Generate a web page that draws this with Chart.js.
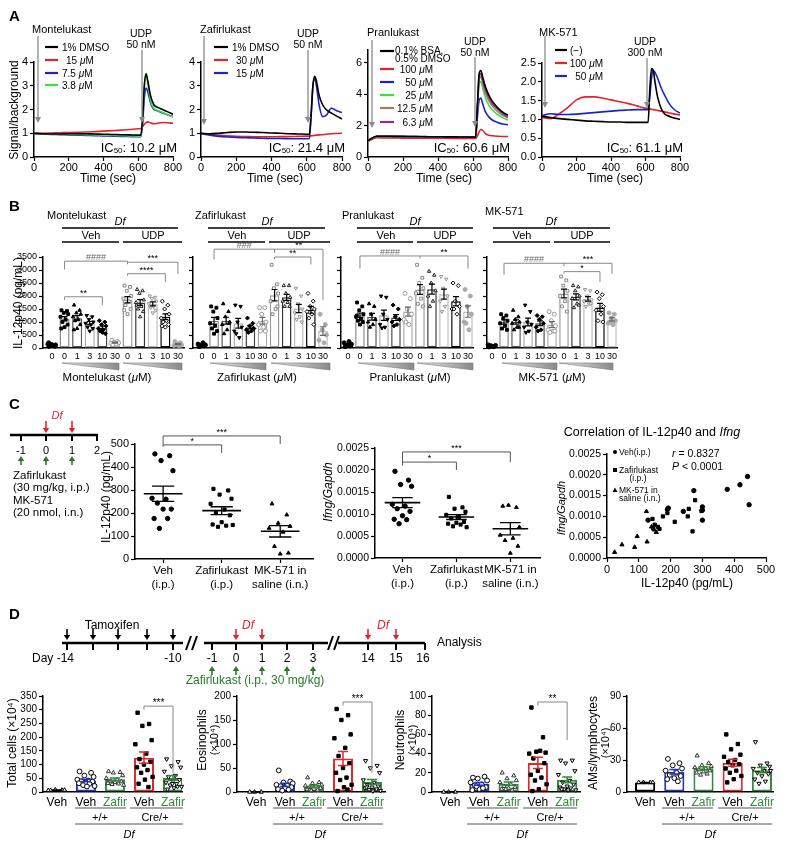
<!DOCTYPE html>
<html><head><meta charset="utf-8"><title>Figure</title>
<script src="https://cdn.jsdelivr.net/npm/chart.js@4.4.1/dist/chart.umd.min.js"></script>
<style>
html,body{margin:0;padding:0;background:#fff}
#fig{position:relative;width:786px;height:841px;overflow:hidden;background:#fff}
#fig canvas{position:absolute}
#ov{position:absolute;left:0;top:0;pointer-events:none}
</style></head>
<body><div id="fig"></div>
<script>
// ================= DATA =================
// ---- Panel A: Signal/background vs time (sec) ----
const aTime = [0,50,100,150,200,250,300,350,400,450,500,550,600,615,625,635,645,655,670,690,710,740,770,800];
const aTicksX = [0,200,400,600,800];
const monteDMSO = [1.00,0.98,0.97,0.97,0.98,0.98,0.98,0.97,0.96,0.95,0.94,0.93,0.92,0.92,1.60,3.00,3.50,3.20,2.60,2.20,2.10,2.00,1.90,1.80];
const monte15 =   [1.00,1.00,1.01,1.02,1.03,1.04,1.05,1.07,1.09,1.11,1.13,1.16,1.19,1.20,1.28,1.38,1.45,1.48,1.44,1.40,1.42,1.45,1.44,1.42];
const monte75 =   [0.97,0.96,0.95,0.94,0.93,0.92,0.91,0.90,0.89,0.88,0.87,0.86,0.85,0.85,1.40,2.50,2.90,2.75,2.30,2.00,1.95,1.85,1.77,1.70];
const monte38 =   [0.98,0.97,0.96,0.96,0.96,0.95,0.94,0.93,0.92,0.91,0.90,0.89,0.88,0.88,1.60,3.00,3.50,3.10,2.40,2.05,1.97,1.87,1.78,1.68];
const zafiDMSO =  [1.00,0.98,1.00,1.03,1.05,1.05,1.04,1.03,1.01,1.00,0.98,0.97,0.96,0.96,1.80,3.00,3.40,3.20,2.60,2.20,2.00,1.85,1.72,1.60];
const zafi30 =    [1.00,0.96,0.92,0.89,0.87,0.86,0.85,0.85,0.85,0.86,0.86,0.87,0.88,0.88,0.89,0.90,0.91,0.92,0.93,0.94,0.96,0.98,0.99,1.00];
const zafi15 =    [0.98,0.92,0.87,0.84,0.82,0.81,0.80,0.79,0.78,0.78,0.77,0.77,0.77,0.78,1.80,3.00,3.30,3.00,2.20,1.70,1.75,2.05,1.95,1.87];
const pranCtrl =  [1.05,1.32,1.32,1.31,1.31,1.30,1.30,1.29,1.29,1.28,1.28,1.27,1.27,1.27,3.20,5.30,5.50,5.10,4.50,3.95,3.55,3.15,2.85,2.65];
const pran100 =   [1.00,1.22,1.21,1.21,1.20,1.20,1.20,1.19,1.19,1.19,1.18,1.18,1.18,1.18,1.35,1.60,1.75,1.70,1.50,1.38,1.35,1.32,1.30,1.30];
const pran50 =    [1.02,1.30,1.30,1.29,1.29,1.28,1.28,1.27,1.27,1.27,1.26,1.26,1.26,1.26,2.50,3.60,3.75,3.40,2.90,2.55,2.35,2.20,2.10,2.05];
const pran25 =    [1.03,1.31,1.31,1.30,1.30,1.29,1.29,1.28,1.28,1.27,1.27,1.27,1.26,1.26,3.00,4.60,4.80,4.40,3.80,3.30,3.00,2.70,2.50,2.35];
const pran125 =   [1.04,1.31,1.31,1.30,1.30,1.30,1.29,1.29,1.28,1.28,1.27,1.27,1.27,1.27,3.10,4.90,5.10,4.70,4.10,3.60,3.25,2.90,2.65,2.50];
const pran63 =    [1.04,1.32,1.31,1.31,1.30,1.30,1.29,1.29,1.28,1.28,1.28,1.27,1.27,1.27,3.15,5.10,5.30,4.90,4.30,3.80,3.40,3.05,2.75,2.55];
const mkCtrl =    [1.08,1.05,1.02,1.00,0.98,0.96,0.95,0.94,0.93,0.93,0.92,0.92,0.92,0.92,1.80,2.35,2.30,2.00,1.60,1.30,1.15,1.08,1.03,1.00];
const mk100 =     [1.05,1.02,1.15,1.32,1.52,1.60,1.60,1.57,1.52,1.47,1.42,1.36,1.30,1.29,1.28,1.27,1.26,1.25,1.24,1.22,1.20,1.17,1.14,1.12];
const mk50 =      [1.10,1.15,1.13,1.13,1.14,1.16,1.18,1.20,1.22,1.24,1.25,1.26,1.26,1.26,1.60,2.10,2.30,2.25,2.10,1.85,1.65,1.40,1.25,1.17];

// ---- Panel B: IL-12p40 (pg/mL); groups: baseline 0, Veh 0/1/3/10/30, UDP 0/1/3/10/30 ----
const bTickLabels = ['0','0','1','3','10','30','0','1','3','10','30'];
const bTicksY = [0,500,1000,1500,2000,2500,3000,3500];
const monteB = [
  [60,80,100,120,150,90,110,70,130,200],
  [1450,1420,1350,1300,1200,1100,1000,900,800,750],
  [1650,1450,1350,1300,1200,1100,1050,900,750,700],
  [1250,1200,1100,1000,950,900,800,750,650],
  [1050,1000,900,850,750,700,650,550,600],
  [300,250,220,200,180,150,130],
  [2400,2350,2200,2000,1900,1800,1650,1500,1300,1450],
  [2250,2200,2100,1850,1750,1600,1500,1400,1200,1650],
  [2000,1950,1900,1800,1700,1600,1550,1450,1350],
  [1800,1650,1500,1300,1150,1050,1000,900,800,850],
  [250,200,150,120,100,90,130]];
const zafiB = [
  [50,80,100,120,150,200,60,90],
  [1600,1550,1400,1150,950,850,750,650,550],
  [1700,1400,1200,1000,900,700,550,950],
  [1650,1600,1000,800,650,400,550],
  [1150,950,850,750,700,650,600,750],
  [1550,1550,1300,1000,900,800,650,650],
  [3200,2450,2300,2100,1800,1500,1300,1600],
  [2400,2400,2100,1950,1800,1750,1600,1600],
  [2300,2000,1700,1500,1350,1200,1100,1000],
  [2100,1800,1600,1500,1400,1300,1150,900],
  [1300,900,700,500,300,200]];
const pranB = [
  [50,80,100,150,200,250,60,90,120],
  [1750,1600,1450,1300,1200,1100,1050,1000,900,1250],
  [1700,1600,1300,1100,1000,900,800],
  [2000,1950,1300,1100,900,800,770],
  [1650,1500,1200,1100,1000,900,850],
  [2100,1900,1500,1300,1100,900,1000],
  [3200,2700,2500,2300,2100,1900,1700,1600],
  [2950,2800,2500,2200,2000,1800,1600],
  [2750,2650,2300,2000,1800,1600,1400],
  [2500,2400,1800,1600,1500,1300,1500],
  [2250,2000,1600,1300,1000,700,950]];
const mkB = [
  [40,60,80,100,120,50,90],
  [1300,1250,1150,1050,950,850,750,700],
  [1450,1200,1100,1000,950,800,700,800],
  [1650,1400,1000,900,800,650,600],
  [1250,1200,1100,950,800,700,650],
  [1400,1300,1050,850,700,650,600,650],
  [2750,2600,2400,2200,2000,1800,1600,1400],
  [2400,2350,2200,2000,1900,1700,1550,1650],
  [2250,2200,2000,1850,1800,1700,1600,1700],
  [2150,2050,1900,1600,1450,1300,1050,1000],
  [1350,1300,1150,1050,950,900,1000]];

// ---- Panel C ----
const cCats = [['Veh','(i.p.)'],['Zafirlukast','(i.p.)'],['MK-571 in','saline (i.n.)']];
const il12Ticks = [0,100,200,300,400,500];
const il12Veh = [457,449,428,384,264,260,243,217,217,176,176,133];
const il12Zafi = [305,298,280,262,240,215,200,190,160,150,145,140,148];
const il12MK = [240,192,156,142,134,117,55,26,22];
const ifngTicks = [0,0.0005,0.001,0.0015,0.002,0.0025];
const ifngVeh = [0.00197,0.00177,0.00167,0.00163,0.00122,0.00118,0.00112,0.00106,0.00096,0.00088,0.00087,0.00078];
const ifngZafi = [0.00139,0.00115,0.00112,0.00105,0.00098,0.00093,0.00090,0.00082,0.00080,0.00078,0.00076,0.00072,0.00070];
const ifngMK = [0.00118,0.00115,0.00120,0.00070,0.00052,0.00045,0.00040,0.00027,0.00011];
const corrTicksX = [0,100,200,300,400,500];
const corrVehX = [442,418,378,447,273,300,300,300,193,190,129,240];
const corrVehY = [0.00196,0.00176,0.00165,0.00128,0.00162,0.00123,0.00115,0.00091,0.00120,0.00117,0.00091,0.00112];
const corrZafiX = [277,257,254,213,269,297,176,190,143,150,160,165,145];
const corrZafiY = [0.00139,0.00118,0.00100,0.00087,0.00064,0.00113,0.00100,0.00108,0.00094,0.00080,0.00075,0.00070,0.00072];
const corrMKX = [124,95,47,24,87,126,155,140,148];
const corrMKY = [0.00112,0.00052,0.00032,0.00014,0.00026,0.00039,0.00062,0.00075,0.00068];

// ---- Panel D (x10^4 cells); groups: Veh, +/+ Veh, +/+ Zafir, Cre/+ Veh, Cre/+ Zafir ----
const dTickLabels = ['Veh','Veh','Zafir','Veh','Zafir'];
const totalCells = [[6,7,8,7,6],[75,70,60,55,45,42,40,38,35,32,30,25,22,20],[75,72,70,60,50,45,40,38,35,32,30,28,25],[289,248,241,189,174,140,120,110,100,90,80,70,55,45,30,18],[120,110,95,90,75,60,55,45,40,35,30,25,20,15,10,20,30]];
const eosinophils = [[0,0,0],[45,22,20,18,15,13,12,10,8,6,5,3],[30,20,18,15,13,12,10,8,6,5,4,3],[173,160,150,120,112,92,75,60,50,40,30,25,15,10,2,5],[65,55,50,40,25,20,15,12,10,8,5,5,3,2,10,6]];
const neutrophils = [[0,0,0],[15,16,14,12,10,8,7,5,3,2,4,6],[20,17,14,12,10,8,6,5,4,3,2,3],[88,57,42,41,40,43,35,30,22,18,15,12,8,3,1],[33,33,30,22,18,12,10,8,6,5,4,3,2,2,3]];
const amsLymph = [[9,9,9,9],[31,27,25,22,20,18,16,15,13,12,10],[34,27,25,24,23,22,21,20,19,18,17,16],[54,45,40,35,33,30,28,26,25,22,20,18,15,12,9],[47,27,25,24,22,20,18,17,15,12,10,8,20,22]];
const totalTicks = [0,50,100,150,200,250,300,350];
const eosTicks = [0,50,100,150,200];
const neuTicks = [0,20,40,60,80,100];
const amTicks = [0,30,60,90];

// ================= STYLE / HELPERS =================
const FONT = '"Liberation Sans", Arial, Helvetica, sans-serif';
const RED = '#e8202a', BLUE = '#1a25c8', GREEN_A = '#3ee03e', BROWN = '#a27b5c', PURPLE = '#8e2a90';
const DGREEN = '#2f8a3a', DBLUE = '#2233cc', DRED = '#e02828', TGREEN = '#2a7a2a';
Chart.defaults.font.family = FONT;
Chart.defaults.color = '#000';
Chart.defaults.animation = false;
Chart.defaults.events = [];
Chart.defaults.plugins.legend.display = false;
Chart.defaults.plugins.tooltip.enabled = false;

const JIT = [-0.2,0.16,-0.05,0.24,-0.27,0.07,-0.14,0.2,0.0,-0.22,0.11,-0.09,0.27,0.03,-0.17,0.14,-0.02];
const mean = a => a.reduce((p,c)=>p+c,0)/a.length;
const sem = a => { const m = mean(a); return Math.sqrt(a.reduce((p,c)=>p+(c-m)*(c-m),0)/(a.length-1))/Math.sqrt(a.length); };

const fig = document.getElementById('fig');
function makeChart(box, cfg) {
  const c = document.createElement('canvas');
  const w = box.x1 - box.x0 + box.L + box.R, h = box.yB - box.yT + box.T + box.B;
  c.width = w; c.height = h;
  c.style.left = (box.x0 - box.L) + 'px'; c.style.top = (box.yT - box.T) + 'px';
  c.style.width = w + 'px'; c.style.height = h + 'px';
  fig.appendChild(c);
  cfg.options.responsive = false;
  cfg.options.maintainAspectRatio = false;
  cfg.options.layout = {padding: {top: box.T, right: box.R, left: 0, bottom: 0}};
  cfg.options.scales.x.afterFit = s => { s.height = box.B; };
  cfg.options.scales.y.afterFit = s => { s.width = box.L; };
  const ch = new Chart(c, cfg);
  ch.$ox = box.x0 - box.L; ch.$oy = box.yT - box.T;
  return ch;
}
const PX = (ch, v) => ch.$ox + ch.scales.x.getPixelForValue(v);
const PY = (ch, v) => ch.$oy + ch.scales.y.getPixelForValue(v);

function ax(o) {
  const a = {
    type: 'linear', min: o.min, max: o.max, offset: false,
    grid: {display: true, drawOnChartArea: false, drawTicks: (o.tl||0) > 0, tickLength: o.tl||0, tickWidth: 1.2, color: '#000', offset: false},
    border: {display: true, color: '#000', width: 1.5},
    ticks: {autoSkip: false, maxRotation: 0, minRotation: 0, padding: (o.pad===undefined?2:o.pad), font: {size: o.fs || 11}, color: o.color || '#000'}
  };
  if (o.tv) a.afterBuildTicks = s => { s.ticks = o.tv.map(v => ({value: v})); };
  if (o.cb) a.ticks.callback = o.cb;
  return a;
}

// ---------- Panel A charts ----------
function aChart(box, series, ymax, yTicks, yfmt) {
  return makeChart(box, {type: 'scatter',
    data: {datasets: series.map(sr => ({data: aTime.map((t,i)=>({x:t, y:sr.v[i]})), showLine: true, borderColor: sr.c, borderWidth: 1.6, pointRadius: 0, cubicInterpolationMode: 'monotone', fill: false}))},
    options: {scales: {x: ax({min:0, max:800, tv:aTicksX, tl:4, pad:0, fs:11}), y: ax({min:0, max:ymax, tv:yTicks, tl:4, fs:11, cb:yfmt})}}});
}
const A1 = aChart({x0:34,x1:173,yT:62,yB:157,L:24,R:14,T:10,B:24},
  [{v:monteDMSO,c:'#000'},{v:monte38,c:GREEN_A},{v:monte75,c:BLUE},{v:monte15,c:RED}], 4, [0,1,2,3,4]);
const A2 = aChart({x0:201,x1:342,yT:62,yB:157,L:24,R:14,T:10,B:24},
  [{v:zafiDMSO,c:'#000'},{v:zafi15,c:BLUE},{v:zafi30,c:RED}], 4, [0,1,2,3,4]);
const A3 = aChart({x0:368,x1:508,yT:50,yB:157,L:24,R:14,T:10,B:24},
  [{v:pranCtrl,c:'#000'},{v:pran63,c:PURPLE},{v:pran125,c:BROWN},{v:pran25,c:GREEN_A},{v:pran50,c:BLUE},{v:pran100,c:RED}], 6.8, [0,2,4,6]);
const A4 = aChart({x0:542,x1:680,yT:63,yB:157,L:28,R:14,T:10,B:24},
  [{v:mkCtrl,c:'#000'},{v:mk50,c:BLUE},{v:mk100,c:RED}], 2.5, [0,0.5,1,1.5,2,2.5], v => v.toFixed(1));

// ---------- bar + dot charts ----------
function barDot(box, groups, o) {
  const ds = [{type:'bar', data: groups.map((g,i)=>({x:i, y:mean(g)})), backgroundColor:'#fff', borderColor:o.barCols, borderWidth:o.bw, borderSkipped:false, barPercentage:o.bp, categoryPercentage:1, order:3}];
  groups.forEach((g,i)=>{ const st = o.styles[i];
    ds.push({type:'scatter', data: g.map((v,k)=>({x: i + JIT[k%JIT.length]*o.jit, y: v})), pointStyle: st.s, pointRotation: st.r||0, pointRadius: o.pr, pointBackgroundColor: st.f, pointBorderColor: st.c, pointBorderWidth: 1, clip: false, order: 1}); });
  const eb = {id:'eb', afterDatasetsDraw(ch){ const c = ch.ctx, xs = ch.scales.x, ys = ch.scales.y; c.save(); c.lineWidth = o.ebw || 1.2;
    groups.forEach((g,i)=>{ const m = mean(g), e = sem(g), x = xs.getPixelForValue(i), y1 = ys.getPixelForValue(m-e), y2 = ys.getPixelForValue(m+e);
      c.strokeStyle = o.ebCols[i]; c.beginPath(); c.moveTo(x,y1); c.lineTo(x,y2); c.moveTo(x-o.cap,y1); c.lineTo(x+o.cap,y1); c.moveTo(x-o.cap,y2); c.lineTo(x+o.cap,y2); c.stroke(); });
    c.restore(); }};
  return makeChart(box, {type:'scatter', data:{datasets: ds},
    options:{scales:{
      x: ax({min:o.xmin, max:o.xmax, tv:o.xLabels.map((_,i)=>i), tl:0, pad:o.xpad, fs:o.xfs, cb: v => o.xLabels[Math.round(v)], color:o.xColor}),
      y: ax({min:0, max:o.ymax, tv:o.yTicks, tl:4, fs:o.yfs, cb: o.ylab ? (v => String(v)) : (() => '')})}},
    plugins:[eb]});
}
const bStyles = [
 {s:'circle',f:'#000',c:'#000'},{s:'rect',f:'#000',c:'#000'},{s:'triangle',f:'#000',c:'#000'},{s:'triangle',r:180,f:'#000',c:'#000'},{s:'rectRot',f:'#000',c:'#000'},{s:'circle',f:'#fff',c:'#999'},
 {s:'rect',f:'#fff',c:'#888'},{s:'triangle',f:'#fff',c:'#222'},{s:'triangle',r:180,f:'#fff',c:'#999'},{s:'rectRot',f:'#fff',c:'#000'},{s:'circle',f:'#aaa',c:'#aaa'}];
const bBarCols = ['#000','#888','#555','#aaa','#444','#aaa','#999','#333','#bbb','#000','#bbb'];
const bEbCols = ['#000','#000','#000','#000','#000','#666','#000','#000','#000','#000','#666'];
const bOpt = (xmin, xmax, ylab) => ({xmin, xmax, ylab, xLabels:bTickLabels, xpad:3, xfs:9, ymax:3500, yTicks:bTicksY, yfs:9, barCols:bBarCols, ebCols:bEbCols, styles:bStyles, bw:1.5, bp:0.8, jit:1.2, pr:2, cap:3});
const B1 = barDot({x0:43,x1:184,yT:257,yB:348,L:30,R:10,T:8,B:16}, monteB, bOpt(-0.71, 10.48, true));
const B2 = barDot({x0:193,x1:330,yT:257,yB:348,L:10,R:10,T:8,B:16}, zafiB, bOpt(-0.74, 10.58, false));
const B3 = barDot({x0:341,x1:473,yT:257,yB:348,L:10,R:10,T:8,B:16}, pranB, bOpt(-0.58, 10.42, false));
const B4 = barDot({x0:487,x1:617,yT:257,yB:348,L:10,R:10,T:8,B:16}, mkB, bOpt(-0.42, 10.42, false));

// ---------- Panel C charts ----------
function dotMean(box, groups, o) {
  const ds = groups.map((g,i)=>({data: g.map((v,k)=>({x: i + JIT[k%JIT.length]*0.7, y: v})), pointStyle: o.styles[i], pointRadius: 2.2, pointBackgroundColor:'#000', pointBorderColor:'#000', clip:false}));
  const mp = {id:'mp', afterDatasetsDraw(ch){ const c = ch.ctx, xs = ch.scales.x, ys = ch.scales.y; c.save(); c.strokeStyle = '#000';
    groups.forEach((g,i)=>{ const m = mean(g), e = sem(g);
      const ym = ys.getPixelForValue(m), y1 = ys.getPixelForValue(m-e), y2 = ys.getPixelForValue(m+e);
      c.lineWidth = 1.6; c.beginPath(); c.moveTo(xs.getPixelForValue(i-0.33), ym); c.lineTo(xs.getPixelForValue(i+0.33), ym); c.stroke();
      c.lineWidth = 1.3; c.beginPath(); c.moveTo(xs.getPixelForValue(i-0.19), y1); c.lineTo(xs.getPixelForValue(i+0.19), y1);
      c.moveTo(xs.getPixelForValue(i-0.19), y2); c.lineTo(xs.getPixelForValue(i+0.19), y2);
      c.moveTo(xs.getPixelForValue(i), y1); c.lineTo(xs.getPixelForValue(i), y2); c.stroke(); });
    c.restore(); }};
  return makeChart(box, {type:'scatter', data:{datasets: ds},
    options:{scales:{
      x: ax({min:o.xmin, max:o.xmax, tv:[0,1,2], tl:4, pad:1, fs:11.5, cb: v => cCats[Math.round(v)]}),
      y: ax({min:0, max:o.ymax, tv:o.yTicks, tl:4, fs:o.yfs || 11, cb:o.yfmt})}},
    plugins:[mp]});
}
const C1 = dotMean({x0:135,x1:313,yT:444,yB:559,L:32,R:10,T:10,B:34}, [il12Veh, il12Zafi, il12MK], {xmin:-0.48, xmax:2.56, ymax:500, yTicks:il12Ticks, styles:['circle','rect','triangle']});
const C2 = dotMean({x0:375,x1:540,yT:448,yB:558,L:44,R:10,T:10,B:34}, [ifngVeh, ifngZafi, ifngMK], {xmin:-0.51, xmax:2.55, ymax:0.0025, yTicks:ifngTicks, yfs:10.5, yfmt: v => v.toFixed(4), styles:['circle','rect','triangle']});
const C3 = makeChart({x0:607,x1:766,yT:454,yB:558,L:44,R:14,T:10,B:20}, {type:'scatter',
  data:{datasets:[
    {data: corrVehX.map((x,i)=>({x, y:corrVehY[i]})), pointStyle:'circle', pointRadius:2.2, pointBackgroundColor:'#000', pointBorderColor:'#000', clip:false},
    {data: corrZafiX.map((x,i)=>({x, y:corrZafiY[i]})), pointStyle:'rect', pointRadius:2.3, pointBackgroundColor:'#000', pointBorderColor:'#000', clip:false},
    {data: corrMKX.map((x,i)=>({x, y:corrMKY[i]})), pointStyle:'triangle', pointRadius:2.4, pointBackgroundColor:'#000', pointBorderColor:'#000', clip:false}]},
  options:{scales:{x: ax({min:0, max:500, tv:corrTicksX, tl:4, pad:1, fs:11}), y: ax({min:0, max:0.0025, tv:ifngTicks, tl:4, fs:10.5, cb: v => v.toFixed(4)})}}});

// ---------- Panel D charts ----------
const dStyles = [{s:'triangle',f:'#fff',c:'#000'},{s:'circle',f:'#fff',c:'#000'},{s:'triangle',f:'#fff',c:'#333'},{s:'rect',f:'#000',c:'#000'},{s:'triangle',r:180,f:'#fff',c:'#000'}];
const dCols = ['#000', DBLUE, DGREEN, DRED, DGREEN];
const dOpt = (xmin, xmax, ymax, yTicks) => ({xmin, xmax, ymax, yTicks, ylab:true, xLabels:dTickLabels, xpad:3, xfs:12, xColor: ctx => (dTickLabels[ctx.index]==='Zafir' ? DGREEN : '#000'), yfs:10, barCols:dCols, ebCols:dCols, styles:dStyles, bw:2, bp:0.69, jit:1.1, pr:2.4, cap:5, ebw:1.5});
const D1 = barDot({x0:43,x1:182,yT:696,yB:792,L:26,R:10,T:8,B:18}, totalCells, dOpt(-0.48, 4.31, 350, totalTicks));
const D2 = barDot({x0:237,x1:385,yT:696,yB:792,L:26,R:10,T:8,B:18}, eosinophils, dOpt(-0.66, 4.45, 200, eosTicks));
const D3 = barDot({x0:432,x1:580,yT:696,yB:792,L:26,R:10,T:8,B:18}, neutrophils, dOpt(-0.62, 4.44, 100, neuTicks));
const D4 = barDot({x0:627,x1:773,yT:696,yB:792,L:26,R:10,T:8,B:18}, amsLymph, dOpt(-0.62, 4.38, 90, amTicks));

// ================= ANNOTATION OVERLAY (SVG) =================
let S = '';
function T(x, y, str, o = {}) {
  const tr = o.rot ? ` transform="rotate(-90 ${x} ${y})"` : '';
  S += `<text x="${x}" y="${y}" font-size="${o.fs||11}" text-anchor="${o.a||'start'}" dominant-baseline="central"${o.it?' font-style="italic"':''}${o.b?' font-weight="bold"':''} fill="${o.c||'#000'}"${tr}>${str}</text>`;
}
function Ln(x1, y1, x2, y2, c = '#000', w = 1) { S += `<line x1="${x1}" y1="${y1}" x2="${x2}" y2="${y2}" stroke="${c}" stroke-width="${w}"/>`; }
function Arr(x, y1, y2, c, w = 1.3, hw = 3, hl = 6) {
  const d = y2 > y1 ? 1 : -1;
  Ln(x, y1, x, y2 - d*hl*0.7, c, w);
  S += `<polygon points="${x-hw},${y2-d*hl} ${x+hw},${y2-d*hl} ${x},${y2}" fill="${c}"/>`;
}
function brk(ch, i1, i2, y, yl, yr, txt, o = {}) {
  const x1 = PX(ch, i1), x2 = PX(ch, i2), py = PY(ch, y), lc = o.lc || '#888';
  Ln(x1, py, x2, py, lc, 1);
  if (yl !== null) Ln(x1, py, x1, PY(ch, yl), lc, 1);
  if (yr !== null) Ln(x2, py, x2, PY(ch, yr), lc, 1);
  T((x1 + x2)/2, py - (o.dy || 4), txt, {fs: o.fs || 9, a: 'middle', c: o.tc || '#000'});
}
const MU = '<tspan font-style="italic">μ</tspan>M';

// ----- Panel A -----
T(9, 15, 'A', {fs:15, b:1});
T(32, 29, 'Montelukast'); T(200, 29, 'Zafirlukast'); T(367, 32, 'Pranlukast'); T(539, 32, 'MK-571');
T(14, 110, 'Signal/background', {fs:12, a:'middle', rot:1});
[[108,178],[275,178],[444,178],[615,178]].forEach(p => T(p[0], p[1], 'Time (sec)', {fs:12, a:'middle'}));
[[47,'#000','1% DMSO',62],[60,RED,'15 '+MU,66],[73,BLUE,'7.5 '+MU,62],[85,GREEN_A,'3.8 '+MU,62]].forEach(r => { Ln(45, r[0], 58, r[0], r[1], 2.2); T(r[3], r[0], r[2], {fs:10}); });
[[47,'#000','1% DMSO',232],[60,RED,'30 '+MU,236],[73,BLUE,'15 '+MU,236]].forEach(r => { Ln(214, r[0], 228, r[0], r[1], 2.2); T(r[3], r[0], r[2], {fs:10}); });
Ln(380, 51, 394, 51, '#000', 2.2); T(395, 50, '0.1% BSA,', {fs:10}); T(395, 58, '0.5% DMSO', {fs:10});
[[69,RED,'100 '+MU],[82,BLUE,'50 '+MU],[95,GREEN_A,'25 '+MU],[108,BROWN,'12.5 '+MU],[122,PURPLE,'6.3 '+MU]].forEach(r => { Ln(380, r[0], 394, r[0], r[1], 2.2); T(433, r[0], r[2], {fs:10, a:'end'}); });
Ln(555, 50, 567, 50, '#000', 2.2); T(570, 50, '(−)', {fs:10});
[[63,RED,'100 '+MU],[76,BLUE,'50 '+MU]].forEach(r => { Ln(555, r[0], 567, r[0], r[1], 2.2); T(603, r[0], r[2], {fs:10, a:'end'}); });
[[141,33,'50 nM'],[308,33,'50 nM'],[475,41,'50 nM'],[645,41,'300 nM']].forEach(p => { T(p[0], p[1], 'UDP', {fs:10.5, a:'middle'}); T(p[0], p[1]+11, p[2], {fs:10.5, a:'middle'}); });
const GRAY = '#8a8a8a';
Arr(38, 36, 123, GRAY); Arr(142, 50, 123, GRAY);
Arr(204, 36, 125, GRAY); Arr(308, 50, 123, GRAY);
Arr(372, 40, 128, GRAY); Arr(475, 57, 127, GRAY);
Arr(545, 36, 108, GRAY); Arr(647, 58, 108, GRAY);
[[177,'10.2'],[345,'21.4'],[510,'60.6'],[683,'61.1']].forEach(p => T(p[0], 147, `IC<tspan font-size="8" dy="3">50</tspan><tspan dy="-3">: ${p[1]} μM</tspan>`, {fs:13, a:'end'}));

// ----- Panel B -----
T(9, 205, 'B', {fs:15, b:1});
T(47, 215, 'Montelukast'); T(195, 215, 'Zafirlukast'); T(342, 215, 'Pranlukast'); T(485, 211, 'MK-571');
T(18, 303, 'IL-12p40 (pg/mL)', {fs:12, a:'middle', rot:1});
S += '<defs><linearGradient id="wg" x1="0" x2="1" y1="0" y2="0"><stop offset="0" stop-color="#f2f2f2"/><stop offset="1" stop-color="#888"/></linearGradient></defs>';
const bHead = [
  {df:[62,178,120], veh:[62,119,91], udp:[123,182,153], w1:[62,119], w2:[123,182], title:'Montelukast (' + MU + ')', tx:107},
  {df:[208,325,267], veh:[208,265,237], udp:[269,330,299], w1:[210,266], w2:[271,330], title:'Zafirlukast (' + MU + ')', tx:257},
  {df:[357,473,415], veh:[357,413,386], udp:[417,473,445], w1:[358,414], w2:[417,473], title:'Pranlukast (' + MU + ')', tx:410},
  {df:[493,610,551], veh:[493,550,522], udp:[554,610,582], w1:[502,557], w2:[559,613], title:'MK-571 (' + MU + ')', tx:552}];
bHead.forEach(h => {
  T(h.df[2], 221, 'Df', {fs:11, it:1, a:'middle'}); Ln(h.df[0], 228, h.df[1], 228, '#000', 1.3);
  T(h.veh[2], 235, 'Veh', {fs:11, a:'middle'}); Ln(h.veh[0], 242, h.veh[1], 242, '#000', 1.3);
  T(h.udp[2], 235, 'UDP', {fs:11, a:'middle'}); Ln(h.udp[0], 242, h.udp[1], 242, '#000', 1.3);
  [h.w1, h.w2].forEach(w => { S += `<polygon points="${w[0]},363 ${w[1]},363 ${w[1]},370" fill="url(#wg)" stroke="#777" stroke-width="0.6"/>`; });
  T(h.tx, 377, h.title, {fs:11.5, a:'middle'});
});
const HC = {lc:'#888', tc:'#666'};
brk(B1, 1, 6, 3340, 3017, 3220, '####', HC); brk(B1, 6, 10, 3300, null, 2856, '***'); brk(B1, 6, 9, 2856, 2780, 2535, '****'); brk(B1, 1, 4, 1971, 1850, 1650, '**');
brk(B2, 1, 6, 3800, 3400, 3650, '###', HC); brk(B2, 6, 10, 3800, null, 1850, '**'); brk(B2, 6, 9, 3500, 3420, 3218, '**');
brk(B3, 1, 6, 3540, 3057, 3450, '####', HC); brk(B3, 6, 10, 3540, null, 3057, '**');
brk(B4, 1, 6, 3259, 2816, 3150, '####', HC); brk(B4, 6, 10, 3259, null, 2856, '***'); brk(B4, 6, 9, 2937, 2860, 2535, '*');

// ----- Panel C -----
T(9, 403, 'C', {fs:15, b:1});
T(57, 415, 'Df', {fs:11, it:1, c:RED, a:'middle'});
Ln(10, 435, 98, 435, '#000', 2.5);
[[21,'-1'],[46,'0'],[72,'1'],[97,'2']].forEach(p => { Ln(p[0], 435, p[0], 441, '#000', 2); T(p[0], 450, p[1], {fs:11, a:'middle'}); });
[46,72].forEach(x => Arr(x, 421, 433, RED, 1.6, 3.2, 5));
[21,46,72].forEach(x => Arr(x, 465, 456, TGREEN, 1.6, 3.2, 5));
T(13, 475, 'Zafirlukast', {fs:11.5}); T(13, 487, '(30 mg/kg, i.p.)', {fs:11.5}); T(13, 500, 'MK-571', {fs:11.5}); T(13, 512, '(20 nmol, i.n.)', {fs:11.5});
T(106, 497, 'IL-12p40 (pg/mL)', {fs:12, a:'middle', rot:1});
T(328, 492, 'Ifng/Gapdh', {fs:12, a:'middle', rot:1, it:1});
T(561, 508, 'Ifng/Gapdh', {fs:11, a:'middle', rot:1, it:1});
T(652, 432, 'Correlation of IL-12p40 and <tspan font-style="italic">Ifng</tspan>', {fs:12.5, a:'middle'});
T(687, 583, 'IL-12p40 (pg/mL)', {fs:12, a:'middle'});
S += `<circle cx="615" cy="452" r="2" fill="#000"/>`; T(619, 452, 'Veh(i.p.)', {fs:8.5});
S += `<rect x="613" y="468" width="4" height="4" fill="#000"/>`; T(619, 470, 'Zafirlukast', {fs:8.5}); T(638, 478, '(i.p.)', {fs:8.5, a:'middle'});
S += `<polygon points="612.5,492 617.5,492 615,487.5" fill="#000"/>`; T(619, 490, 'MK-571 in', {fs:8.5}); T(619, 498, 'saline (i.n.)', {fs:8.5});
T(672, 453, '<tspan font-style="italic">r</tspan> = 0.8327', {fs:10.5});
T(672, 466, '<tspan font-style="italic">P</tspan> &lt; 0.0001', {fs:10.5});
brk(C1, 0, 2, 535, 496, 500, '***', {lc:'#555'}); brk(C1, 0, 1, 496, 488, 461, '*', {lc:'#555'});
brk(C2, 0, 2, 0.00241, 0.00218, 0.00218, '***', {lc:'#555'}); brk(C2, 0, 1, 0.00218, 0.0021, 0.0020, '*', {lc:'#555'});

// ----- Panel D -----
T(9, 613, 'D', {fs:15, b:1});
Ln(62, 643, 183, 643, '#000', 2.5); Ln(204, 643, 328, 643, '#000', 2.5); Ln(338, 643, 425, 643, '#000', 2.5);
Ln(186, 650, 191, 636, '#000', 2); Ln(192, 650, 197, 636, '#000', 2);
Ln(328, 650, 333, 636, '#000', 2); Ln(334, 650, 339, 636, '#000', 2);
[67,93,118,147,173,212,236,262,287,313,368,396,425].forEach(x => Ln(x, 643, x, 650, '#000', 2));
[67,93,118,147,173].forEach(x => Arr(x, 629, 640, '#000', 1.6, 3.2, 5));
[236,262,368,396].forEach(x => Arr(x, 629, 640, RED, 1.6, 3.2, 5));
[212,236,262,287,313].forEach(x => Arr(x, 675, 666, TGREEN, 1.6, 3.2, 5));
T(112, 625, 'Tamoxifen', {fs:12, a:'middle'});
T(248, 625, 'Df', {fs:12, it:1, c:RED, a:'middle'}); T(383, 625, 'Df', {fs:12, it:1, c:RED, a:'middle'});
T(74, 658, 'Day -14', {fs:12, a:'end'});
[[173,'-10'],[212,'-1'],[236,'0'],[262,'1'],[287,'2'],[313,'3'],[368,'14'],[396,'15'],[423,'16']].forEach(p => T(p[0], 658, p[1], {fs:12, a:'middle'}));
T(255, 680, 'Zafirlukast (i.p., 30 mg/kg)', {fs:12, a:'middle', c:TGREEN});
T(437, 642, 'Analysis', {fs:12});
T(12, 743, 'Total cells (×10⁴)', {fs:12, a:'middle', rot:1});
T(202, 740, 'Eosinophils', {fs:12, a:'middle', rot:1}); T(214, 740, '(×10⁴)', {fs:11, a:'middle', rot:1});
T(400, 740, 'Neutrophils', {fs:12, a:'middle', rot:1}); T(412, 740, '(×10⁴)', {fs:11, a:'middle', rot:1});
T(593, 743, 'AMs/lymphocytes', {fs:12, a:'middle', rot:1}); T(605, 743, '(×10⁴)', {fs:11, a:'middle', rot:1});
[[75,126,130,183,100,155,129],[273,322,327,383,297,355,320],[467,518,523,577,492,550,522],[662,713,718,772,687,745,710]].forEach(g => {
  Ln(g[0], 808, g[1], 808, '#555', 1); Ln(g[2], 808, g[3], 808, '#555', 1);
  T(g[4], 817, '+/+', {fs:11, a:'middle'}); T(g[5], 817, 'Cre/+', {fs:11, a:'middle'});
  Ln(g[0], 824, g[3], 824, '#555', 1); T(g[6], 834, 'Df', {fs:11, it:1, a:'middle'});
});
brk(D1, 3, 4, 313, 300, 69, '***', {lc:'#888', fs:10});
brk(D2, 3, 4, 187.5, 180, 40, '***', {lc:'#888', fs:10});
brk(D3, 3, 4, 93.75, 90, 54, '**', {lc:'#888', fs:10});

fig.insertAdjacentHTML('beforeend', `<svg id="ov" xmlns="http://www.w3.org/2000/svg" width="786" height="841" font-family='${FONT}'>${S}</svg>`);
</script></body></html>
